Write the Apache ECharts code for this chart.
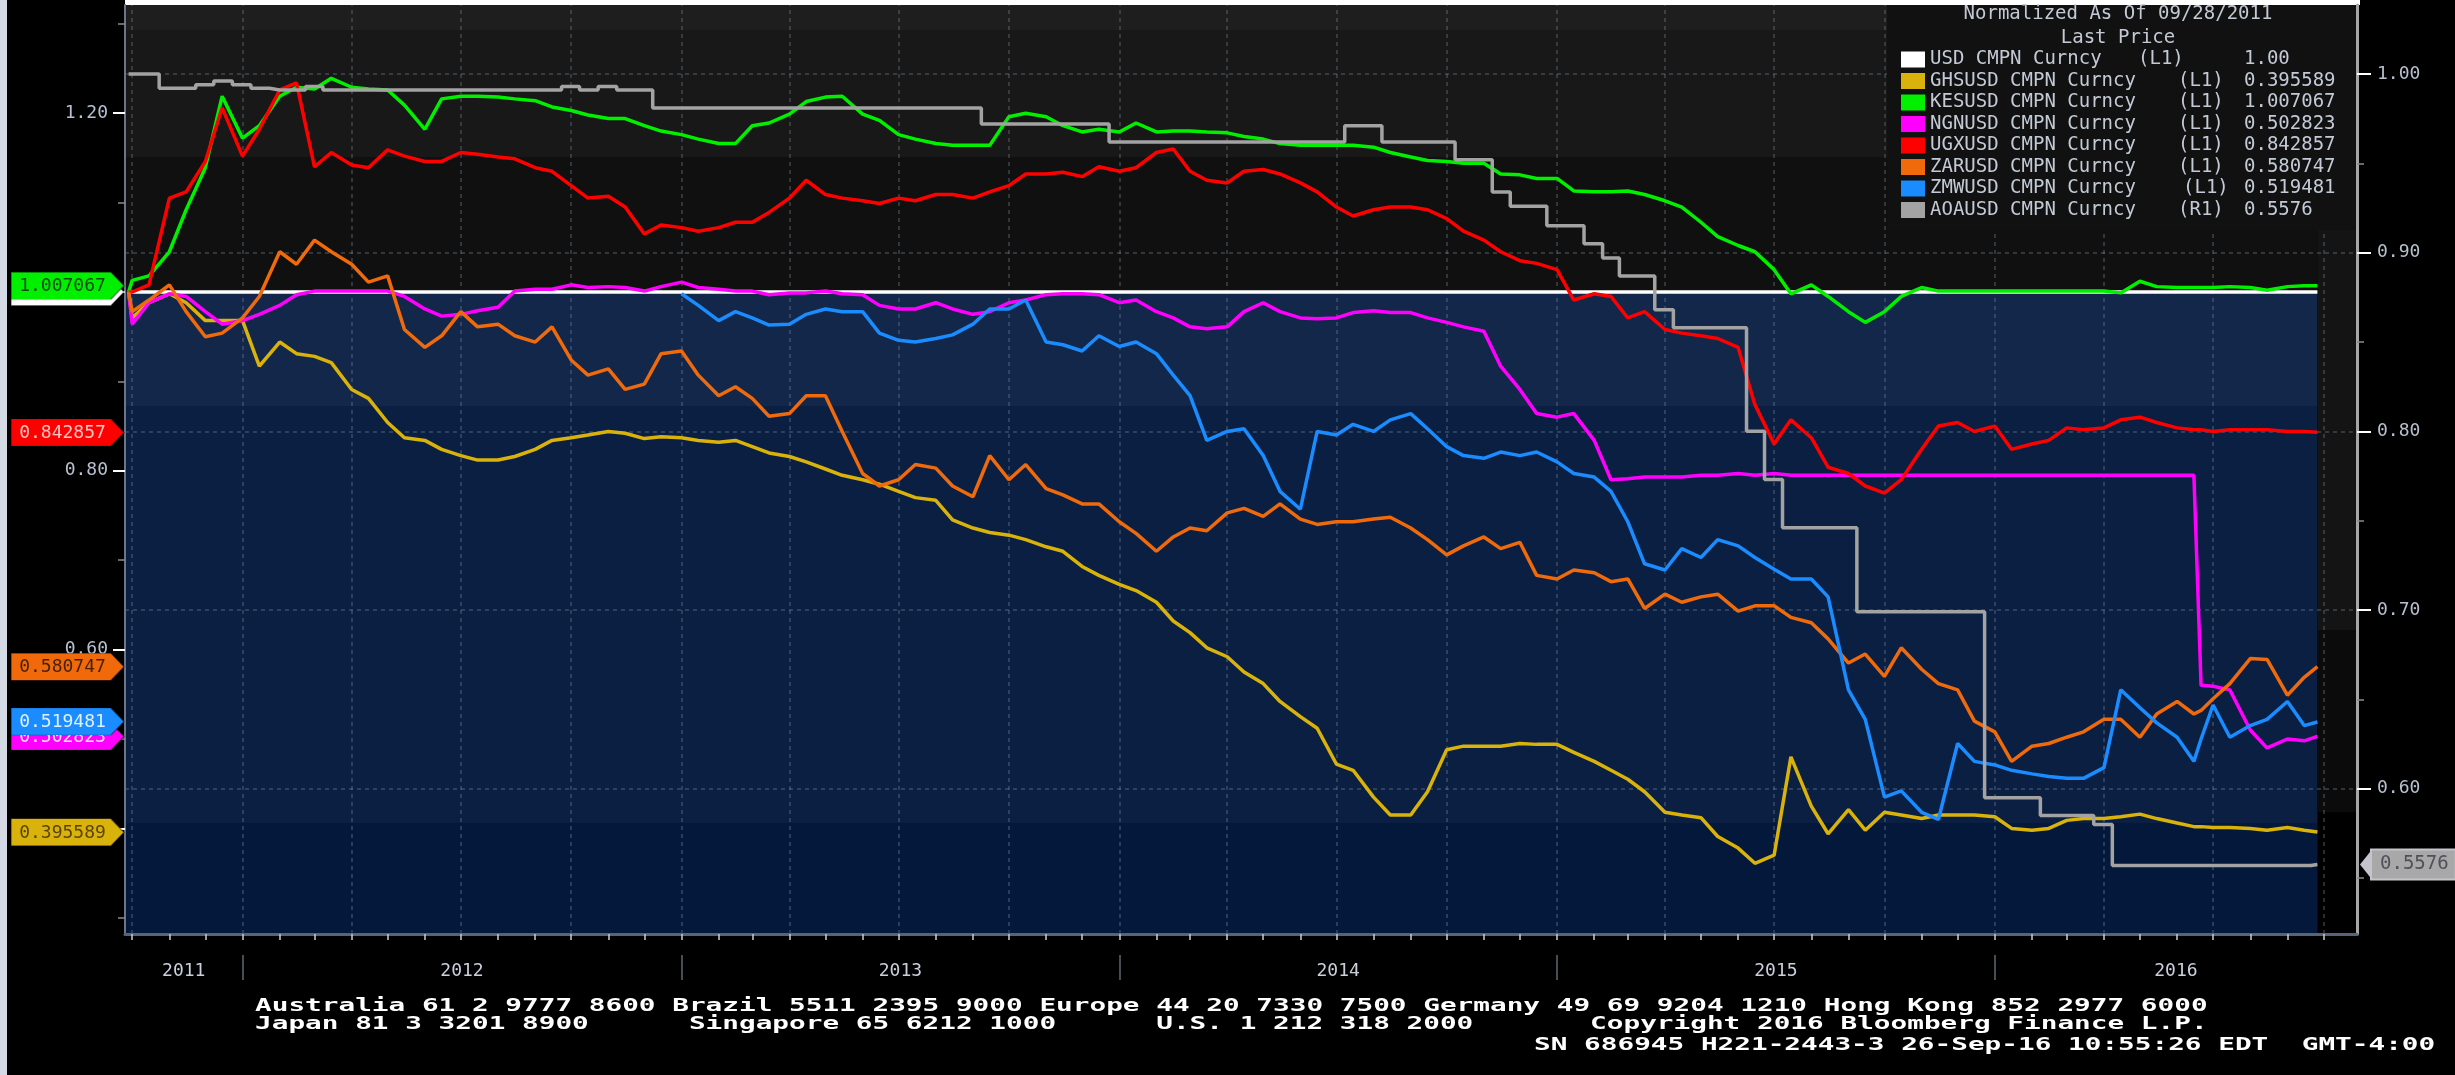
<!DOCTYPE html>
<html>
<head>
<meta charset="utf-8">
<title>African currencies vs USD - normalized</title>
<script src="https://cdn.jsdelivr.net/npm/echarts@6.0.0/dist/echarts.min.js"></script>
<style>
html, body { margin: 0; padding: 0; background: #000; }
#chart { width: 2455px; height: 1075px; }
</style>
</head>
<body>
<div id="chart"></div>
<script>
var chart = echarts.init(document.getElementById('chart'));
var FONT = '"DejaVu Sans Mono", "Liberation Mono", monospace';

// sample dates: 1st and 15th of every month (plus the NGN float day)
var dates = ['2011-09-28'];
for (var y = 2011; y <= 2016; y++) {
    for (var m = (y === 2011 ? 10 : 1); m <= (y === 2016 ? 9 : 12); m++) {
        var mm = (m < 10 ? '0' : '') + m;
        dates.push(y + '-' + mm + '-01');
        dates.push(y + '-' + mm + '-15');
        if (y === 2016 && m === 6) dates.push('2016-06-21');
    }
}
dates.push('2016-09-26');

var usdDates = ['2011-09-28', '2016-09-26'];
var usd = [1.00, 1.00];

var ghs = [1.000, 0.971, 0.988, 0.998, 0.988, 0.968, 0.968,
    0.968, 0.917, 0.944, 0.931, 0.928, 0.921, 0.891, 0.881, 0.854, 0.837, 0.834, 0.824,
    0.817, 0.812, 0.812, 0.816, 0.824, 0.834, 0.837, 0.840, 0.844, 0.842, 0.836, 0.838,
    0.837, 0.834, 0.832, 0.834, 0.827, 0.820, 0.816, 0.810, 0.802, 0.795, 0.790, 0.785,
    0.777, 0.770, 0.767, 0.745, 0.736, 0.731, 0.728, 0.723, 0.715, 0.710, 0.693, 0.683,
    0.673, 0.666, 0.653, 0.632, 0.619, 0.602, 0.592, 0.575, 0.562, 0.542, 0.525, 0.512,
    0.472, 0.465, 0.435, 0.415, 0.415, 0.441, 0.488, 0.492, 0.492, 0.492, 0.495, 0.494,
    0.494, 0.485, 0.475, 0.465, 0.455, 0.441, 0.418, 0.415, 0.412, 0.391, 0.378, 0.361,
    0.370, 0.480, 0.425, 0.394, 0.421, 0.398, 0.418, 0.415, 0.411, 0.415, 0.415, 0.415,
    0.413, 0.400, 0.398, 0.400, 0.409, 0.411, 0.411, 0.413, 0.416, 0.411, 0.406, 0.402,
    0.402, 0.401, 0.401, 0.400, 0.398, 0.401, 0.398, 0.396];

var kes = [1.000, 1.013, 1.018, 1.045, 1.092, 1.139, 1.219,
    1.172, 1.186, 1.219, 1.229, 1.227, 1.239, 1.229, 1.227, 1.226, 1.209, 1.182, 1.216,
    1.219, 1.219, 1.218, 1.216, 1.214, 1.207, 1.203, 1.198, 1.194, 1.194, 1.186, 1.180,
    1.176, 1.171, 1.166, 1.166, 1.186, 1.189, 1.199, 1.213, 1.218, 1.219, 1.199, 1.192,
    1.176, 1.171, 1.166, 1.164, 1.164, 1.164, 1.196, 1.200, 1.196, 1.186, 1.179, 1.182,
    1.179, 1.189, 1.179, 1.180, 1.180, 1.179, 1.178, 1.174, 1.171, 1.166, 1.164, 1.164,
    1.164, 1.164, 1.162, 1.156, 1.151, 1.147, 1.146, 1.144, 1.144, 1.132, 1.131, 1.127,
    1.127, 1.113, 1.112, 1.112, 1.113, 1.109, 1.102, 1.095, 1.078, 1.062, 1.052, 1.045,
    1.025, 0.998, 1.008, 0.995, 0.978, 0.966, 0.978, 0.995, 1.005, 1.001, 1.001, 1.001,
    1.001, 1.001, 1.001, 1.001, 1.001, 1.001, 1.001, 0.999, 1.012, 1.006, 1.005, 1.005,
    1.005, 1.005, 1.006, 1.005, 1.002, 1.006, 1.007, 1.007];

var ngn = [1.000, 0.964, 0.988, 0.998, 0.995, 0.978, 0.964,
    0.968, 0.975, 0.985, 0.997, 1.001, 1.001, 1.001, 1.001, 1.001, 0.995, 0.981, 0.973,
    0.975, 0.979, 0.983, 1.001, 1.003, 1.003, 1.008, 1.005, 1.006, 1.005, 1.001, 1.006,
    1.011, 1.005, 1.003, 1.001, 1.001, 0.997, 0.999, 0.999, 1.001, 0.998, 0.997, 0.985,
    0.981, 0.981, 0.988, 0.981, 0.975, 0.978, 0.988, 0.991, 0.997, 0.998, 0.998, 0.997,
    0.988, 0.991, 0.978, 0.971, 0.961, 0.959, 0.961, 0.978, 0.988, 0.978, 0.971, 0.970,
    0.971, 0.977, 0.979, 0.977, 0.977, 0.971, 0.966, 0.961, 0.956, 0.917, 0.891, 0.864,
    0.860, 0.864, 0.834, 0.790, 0.791, 0.793, 0.793, 0.793, 0.795, 0.795, 0.797, 0.795,
    0.797, 0.795, 0.795, 0.795, 0.795, 0.795, 0.795, 0.795, 0.795, 0.795, 0.795, 0.795,
    0.795, 0.795, 0.795, 0.795, 0.795, 0.795, 0.795, 0.795, 0.795, 0.795, 0.795, 0.795,
    0.560, 0.559, 0.555, 0.510, 0.490, 0.500, 0.498, 0.503];

var ugx = [1.000, 1.000, 1.008, 1.105, 1.112, 1.146, 1.206,
    1.152, 1.182, 1.226, 1.234, 1.140, 1.156, 1.142, 1.139, 1.159, 1.152, 1.146, 1.146,
    1.156, 1.154, 1.151, 1.149, 1.139, 1.135, 1.119, 1.105, 1.107, 1.095, 1.065, 1.075,
    1.072, 1.068, 1.072, 1.078, 1.078, 1.089, 1.105, 1.125, 1.109, 1.105, 1.102, 1.099,
    1.105, 1.102, 1.109, 1.109, 1.105, 1.112, 1.119, 1.132, 1.132, 1.134, 1.129, 1.140,
    1.135, 1.139, 1.156, 1.160, 1.135, 1.125, 1.122, 1.135, 1.137, 1.132, 1.122, 1.112,
    1.095, 1.085, 1.092, 1.095, 1.095, 1.092, 1.082, 1.068, 1.058, 1.045, 1.035, 1.032,
    1.025, 0.991, 0.998, 0.995, 0.971, 0.978, 0.958, 0.954, 0.951, 0.948, 0.938, 0.874,
    0.830, 0.857, 0.837, 0.804, 0.797, 0.783, 0.775, 0.790, 0.824, 0.850, 0.854, 0.844,
    0.850, 0.824, 0.830, 0.834, 0.848, 0.846, 0.848, 0.857, 0.860, 0.854, 0.848, 0.846,
    0.846, 0.844, 0.846, 0.846, 0.846, 0.844, 0.844, 0.843];

var zar = [1.000, 0.978, 0.991, 1.008, 0.978, 0.950, 0.954,
    0.971, 0.995, 1.045, 1.031, 1.058, 1.045, 1.031, 1.011, 1.018, 0.958, 0.938, 0.951,
    0.978, 0.961, 0.964, 0.951, 0.944, 0.961, 0.924, 0.907, 0.914, 0.891, 0.897, 0.931,
    0.934, 0.907, 0.884, 0.894, 0.881, 0.861, 0.864, 0.884, 0.884, 0.844, 0.797, 0.783,
    0.790, 0.807, 0.803, 0.783, 0.771, 0.817, 0.790, 0.807, 0.780, 0.773, 0.763, 0.763,
    0.743, 0.730, 0.710, 0.726, 0.736, 0.733, 0.753, 0.758, 0.749, 0.763, 0.746, 0.740,
    0.743, 0.743, 0.746, 0.748, 0.736, 0.723, 0.706, 0.716, 0.726, 0.713, 0.720, 0.683,
    0.679, 0.689, 0.686, 0.676, 0.679, 0.646, 0.662, 0.653, 0.659, 0.662, 0.643, 0.649,
    0.649, 0.636, 0.630, 0.612, 0.585, 0.595, 0.570, 0.602, 0.578, 0.562, 0.555, 0.520,
    0.508, 0.475, 0.492, 0.495, 0.502, 0.508, 0.522, 0.522, 0.502, 0.528, 0.542, 0.528,
    0.532, 0.545, 0.562, 0.590, 0.589, 0.549, 0.569, 0.581];

// ZMW (rebased kwacha) only from 2013
var zmw = [null, null, null, null, null, null, null,
    null, null, null, null, null, null, null, null, null, null, null, null,
    null, null, null, null, null, null, null, null, null, null, null, null,
    0.998, 0.985, 0.968, 0.978, 0.971, 0.963, 0.964, 0.975, 0.981, 0.978, 0.978, 0.954,
    0.946, 0.944, 0.948, 0.952, 0.964, 0.981, 0.981, 0.991, 0.944, 0.941, 0.934, 0.951,
    0.939, 0.944, 0.931, 0.907, 0.884, 0.834, 0.844, 0.847, 0.817, 0.777, 0.757, 0.844,
    0.840, 0.852, 0.844, 0.857, 0.864, 0.847, 0.827, 0.817, 0.814, 0.821, 0.817, 0.821,
    0.810, 0.797, 0.793, 0.777, 0.743, 0.696, 0.689, 0.713, 0.703, 0.723, 0.716, 0.703,
    0.690, 0.679, 0.679, 0.659, 0.555, 0.522, 0.435, 0.442, 0.418, 0.410, 0.495, 0.475,
    0.471, 0.465, 0.461, 0.458, 0.456, 0.456, 0.468, 0.555, 0.535, 0.518, 0.502, 0.475,
    0.500, 0.538, 0.502, 0.515, 0.522, 0.542, 0.515, 0.519];

// AOA on the right axis
var aoa = [1.000, 1.000, 1.000, 0.992, 0.992, 0.994, 0.996,
    0.994, 0.992, 0.991, 0.991, 0.993, 0.991, 0.991, 0.991, 0.991, 0.991, 0.991, 0.991,
    0.991, 0.991, 0.991, 0.991, 0.991, 0.991, 0.993, 0.991, 0.993, 0.991, 0.991, 0.981,
    0.981, 0.981, 0.981, 0.981, 0.981, 0.981, 0.981, 0.981, 0.981, 0.981, 0.981, 0.981,
    0.981, 0.981, 0.981, 0.981, 0.981, 0.972, 0.972, 0.972, 0.972, 0.972, 0.972, 0.972,
    0.962, 0.962, 0.962, 0.962, 0.962, 0.962, 0.962, 0.962, 0.962, 0.962, 0.962, 0.962,
    0.962, 0.971, 0.971, 0.962, 0.962, 0.962, 0.962, 0.952, 0.952, 0.934, 0.926, 0.926,
    0.915, 0.915, 0.905, 0.897, 0.887, 0.887, 0.868, 0.858, 0.858, 0.858, 0.858, 0.800,
    0.773, 0.746, 0.746, 0.746, 0.746, 0.699, 0.699, 0.699, 0.699, 0.699, 0.699, 0.699,
    0.595, 0.595, 0.595, 0.585, 0.585, 0.585, 0.580, 0.557, 0.557, 0.557, 0.557, 0.557,
    0.557, 0.557, 0.557, 0.557, 0.557, 0.557, 0.557, 0.5576];

var names = ['USD CMPN Curncy', 'GHSUSD CMPN Curncy', 'KESUSD CMPN Curncy', 'NGNUSD CMPN Curncy',
    'UGXUSD CMPN Curncy', 'ZARUSD CMPN Curncy', 'ZMWUSD CMPN Curncy', 'AOAUSD CMPN Curncy'];
var axisTags = ['(L1)', '(L1)', '(L1)', '(L1)', '(L1)', '(L1)', '(L1)', '(R1)'];
var lastPrices = ['1.00', '0.395589', '1.007067', '0.502823', '0.842857', '0.580747', '0.519481', '0.5576'];
var colors = ['#ffffff', '#d9b30c', '#00f000', '#ff00ff', '#ff0000', '#f06a0c', '#1a8cff', '#a3a3a3'];
var tagFills = ['#ffffff', '#d9b30c', '#00f000', '#ff00ff', '#ff0000', '#f06a0c', '#1a8cff', '#a8a8a8'];
var tagTextColors = ['#333333', '#5a4500', '#0a4a0a', '#ffe6ff', '#ffc4c4', '#4a2000', '#e0f0ff', '#505058'];

var leftLabels = [0.4, 0.6, 0.8, 1.0, 1.2];
var leftMinor = [0.3, 0.5, 0.7, 0.9, 1.1, 1.3];
var rightLabels = [0.6, 0.7, 0.8, 0.9, 1.0];
var rightMinor = [0.55, 0.65, 0.75, 0.85, 0.95];
var yearLabels = ['2011', '2012', '2013', '2014', '2015', '2016'];

var footer = [
    'Australia 61 2 9777 8600 Brazil 5511 2395 9000 Europe 44 20 7330 7500 Germany 49 69 9204 1210 Hong Kong 852 2977 6000',
    'Japan 81 3 3201 8900      Singapore 65 6212 1000      U.S. 1 212 318 2000       Copyright 2016 Bloomberg Finance L.P.',
    'SN 686945 H221-2443-3 26-Sep-16 10:55:26 EDT  GMT-4:00'
];

function ts(y, m, d) { return new Date(y, m - 1, d).getTime(); }
function day(s) { var p = s.split('-'); return ts(+p[0], +p[1], +p[2]); }
var X_MIN = ts(2011, 9, 25), X_MAX = ts(2016, 10, 29), X_END = ts(2016, 9, 26);
var L_MIN = 0.2819, L_MAX = 1.321;
var R_MIN = 0.5187, R_MAX = 1.0386;

var monthTicks = [], quarterLines = [], yearBounds = [], yearMids = [];
for (var yy = 2011; yy <= 2016; yy++) {
    for (var mo = 1; mo <= 12; mo++) {
        var t = ts(yy, mo, 1);
        if (t < X_MIN || t > X_MAX) continue;
        monthTicks.push(t);
        if ((mo - 1) % 3 === 0) quarterLines.push(t);
        if (mo === 1) yearBounds.push(t);
    }
}
var edges = [X_MIN].concat(yearBounds, [X_MAX]);
for (var k = 0; k < edges.length - 1; k++) yearMids.push((edges[k] + edges[k + 1]) / 2);

// background shading bands (left axis units)
var bands = [
    [1.293, L_MAX, '#1e1e1e'], [1.151, 1.293, '#181818'], [1.0, 1.151, '#101010'],
    [0.8725, 1.0, '#12274a'], [0.406, 0.8725, '#0a1f42'], [L_MIN, 0.406, '#03183a']
];
var stripBands = [[0.622, L_MAX, '#141414'], [0.418, 0.622, '#0b0b0b']];

var gridStyle = { type: [4, 4], color: 'rgba(120,135,155,0.45)', width: 1.5 };

// last-price tags on the axes
function leftTag(i) {
    return {
        silent: true,
        animation: false,
        z: (i === 0 || i === 3) ? 4 : 5,
        symbol: 'path://M0,0L100,0L113,13.5L100,27L0,27Z',
        symbolSize: [113, 27],
        symbolKeepAspect: false,
        symbolOffset: [-57.5, 0],
        itemStyle: { color: tagFills[i], borderColor: 'rgba(0,0,0,0.35)', borderWidth: 1 },
        label: {
            show: true, position: 'inside', offset: [-5, 1],
            formatter: lastPrices[i], color: tagTextColors[i], fontFamily: FONT, fontSize: 18
        },
        data: [{ coord: [X_MIN, parseFloat(lastPrices[i])] }]
    };
}
function rightTag(i) {
    return {
        silent: true,
        animation: false,
        z: 5,
        symbol: 'path://M12,0L12,30L0,15Z',
        symbolSize: [12, 30],
        symbolKeepAspect: false,
        symbolOffset: [9, 0],
        itemStyle: { color: '#c4c4cc' },
        label: {
            show: true, position: 'right', distance: 0,
            formatter: lastPrices[i], color: tagTextColors[i], fontFamily: FONT, fontSize: 19,
            backgroundColor: tagFills[i], borderColor: '#c4c4cc', borderWidth: 2,
            padding: [5, 6, 4, 8]
        },
        data: [{ coord: [X_MAX, parseFloat(lastPrices[i])] }]
    };
}

function lineSeries(i, xs, values, yIdx) {
    return {
        name: names[i],
        type: 'line',
        yAxisIndex: yIdx,
        symbol: 'none',
        data: values.map(function (v, j) { return [day(xs[j]), v]; }),
        lineStyle: { color: colors[i], width: 3.5 },
        itemStyle: { color: colors[i] },
        emphasis: { disabled: true },
        markPoint: yIdx === 1 ? rightTag(i) : leftTag(i)
    };
}

var series = [
    lineSeries(0, usdDates, usd, 0),
    lineSeries(1, dates, ghs, 0),
    lineSeries(2, dates, kes, 0),
    lineSeries(3, dates, ngn, 0),
    lineSeries(4, dates, ugx, 0),
    lineSeries(5, dates, zar, 0),
    lineSeries(6, dates, zmw, 0),
    lineSeries(7, dates, aoa, 1)
];
series[7].step = 'middle';
series[0].markArea = {
    silent: true, z: 0, animation: false,
    data: bands.map(function (b) {
        return [{ xAxis: X_MIN, yAxis: b[1], itemStyle: { color: b[2] } }, { xAxis: X_END, yAxis: b[0] }];
    }).concat(stripBands.map(function (b) {
        return [{ xAxis: X_END, yAxis: b[1], itemStyle: { color: b[2] } }, { xAxis: X_MAX, yAxis: b[0] }];
    }))
};
series[0].markLine = {
    silent: true, z: 1, animation: false, symbol: ['none', 'none'],
    label: { show: false }, lineStyle: gridStyle,
    data: quarterLines.map(function (q) { return { xAxis: q }; })
};
series[7].markLine = {
    silent: true, z: 1, animation: false, symbol: ['none', 'none'],
    label: { show: false }, lineStyle: gridStyle,
    data: rightLabels.map(function (v) { return { yAxis: v }; })
};

var labelColor = '#b7c0cf';
var legendText = '#c3cad6';

// legend box + its two right-hand columns
var graphics = [
    { type: 'rect', shape: { x: 0, y: 0, width: 7, height: 1075 }, style: { fill: '#d3dae6' } },
    { type: 'rect', shape: { x: 125, y: 0, width: 2235, height: 5 }, style: { fill: '#ffffff' } },
    { type: 'rect', z: 3, shape: { x: 1887, y: 5, width: 469, height: 225 }, style: { fill: '#111111' } }
];
names.forEach(function (n, i) {
    var rowY = 59.5 + i * 21.5;
    graphics.push({ type: 'text', z: 6, x: i === 0 ? 2138 : (i === 6 ? 2183 : 2178), y: rowY,
        style: { text: axisTags[i], fill: legendText, font: '19px ' + FONT, textVerticalAlign: 'middle' } });
    graphics.push({ type: 'text', z: 6, x: 2244, y: rowY,
        style: { text: lastPrices[i], fill: legendText, font: '19px ' + FONT, textVerticalAlign: 'middle' } });
});
footer.forEach(function (line, i) {
    graphics.push({ type: 'text', x: i === 2 ? 1534 : 255, y: [1006, 1024, 1045][i], scaleX: 1.54,
        style: { text: line, fill: '#ffffff', font: 'bold 18px ' + FONT, textVerticalAlign: 'middle' } });
});

option = {
    backgroundColor: '#000000',
    animation: false,
    grid: { left: 125, right: 98, top: 5, bottom: 141 },
    title: {
        text: 'Normalized As Of 09/28/2011',
        subtext: 'Last Price',
        left: 2118, top: 5, textAlign: 'center', padding: 0, itemGap: 5, z: 6,
        textStyle: { color: legendText, fontFamily: FONT, fontSize: 19, fontWeight: 'normal' },
        subtextStyle: { color: legendText, fontFamily: FONT, fontSize: 19 }
    },
    legend: {
        orient: 'vertical',
        left: 1901, top: 49, padding: 0, z: 5,
        itemWidth: 24, itemHeight: 16, itemGap: 0.5,
        icon: 'rect',
        selectedMode: false,
        data: names,
        textStyle: { color: legendText, fontFamily: FONT, fontSize: 19, lineHeight: 21 }
    },
    xAxis: [{
        type: 'value', min: X_MIN, max: X_MAX, position: 'bottom', z: 3,
        axisLine: { show: true, lineStyle: { color: '#56637a', width: 3 } },
        axisTick: { show: true, customValues: monthTicks, length: 6, lineStyle: { color: '#c9cdd4', width: 1.5 } },
        axisLabel: { show: false },
        splitLine: { show: false }
    }, {
        type: 'value', min: X_MIN, max: X_MAX, position: 'bottom', offset: 21, z: 3,
        axisLine: { show: false },
        axisTick: { show: true, customValues: yearBounds, length: 25, lineStyle: { color: '#5f6772', width: 1.5 } },
        axisLabel: {
            show: true, customValues: yearMids, margin: 7,
            color: '#c9d0dc', fontFamily: FONT, fontSize: 18,
            formatter: function (v) { return yearLabels[new Date(v).getFullYear() - 2011]; }
        },
        splitLine: { show: false }
    }],
    yAxis: [{
        type: 'value', position: 'left', min: L_MIN, max: L_MAX, z: 3,
        axisLine: { show: true, lineStyle: { color: '#6b7585', width: 2 } },
        axisTick: { show: true, customValues: leftLabels, length: 12, lineStyle: { color: '#ffffff', width: 2 } },
        axisLabel: {
            show: true, customValues: leftLabels, margin: 17,
            color: labelColor, fontFamily: FONT, fontSize: 18,
            formatter: function (v) { return v.toFixed(2); }
        },
        splitLine: { show: false }
    }, {
        type: 'value', position: 'right', min: R_MIN, max: R_MAX, z: 3,
        axisLine: { show: true, lineStyle: { color: '#a6a6a6', width: 3 } },
        axisTick: { show: true, customValues: rightLabels, length: 14, lineStyle: { color: '#ffffff', width: 2 } },
        axisLabel: {
            show: true, customValues: rightLabels, margin: 20,
            color: labelColor, fontFamily: FONT, fontSize: 18,
            formatter: function (v) { return v.toFixed(2); }
        },
        splitLine: { show: false }
    }, {
        type: 'value', position: 'left', min: L_MIN, max: L_MAX, z: 3,
        axisLine: { show: false },
        axisTick: { show: true, customValues: leftMinor, length: 7, lineStyle: { color: '#8a8a8a', width: 1.5 } },
        axisLabel: { show: false },
        splitLine: { show: false }
    }, {
        type: 'value', position: 'right', min: R_MIN, max: R_MAX, z: 3,
        axisLine: { show: false },
        axisTick: { show: true, customValues: rightMinor, length: 7, lineStyle: { color: '#8a8a8a', width: 1.5 } },
        axisLabel: { show: false },
        splitLine: { show: false }
    }],
    graphic: graphics,
    series: series
};

chart.setOption(option);
</script>
</body>
</html>
